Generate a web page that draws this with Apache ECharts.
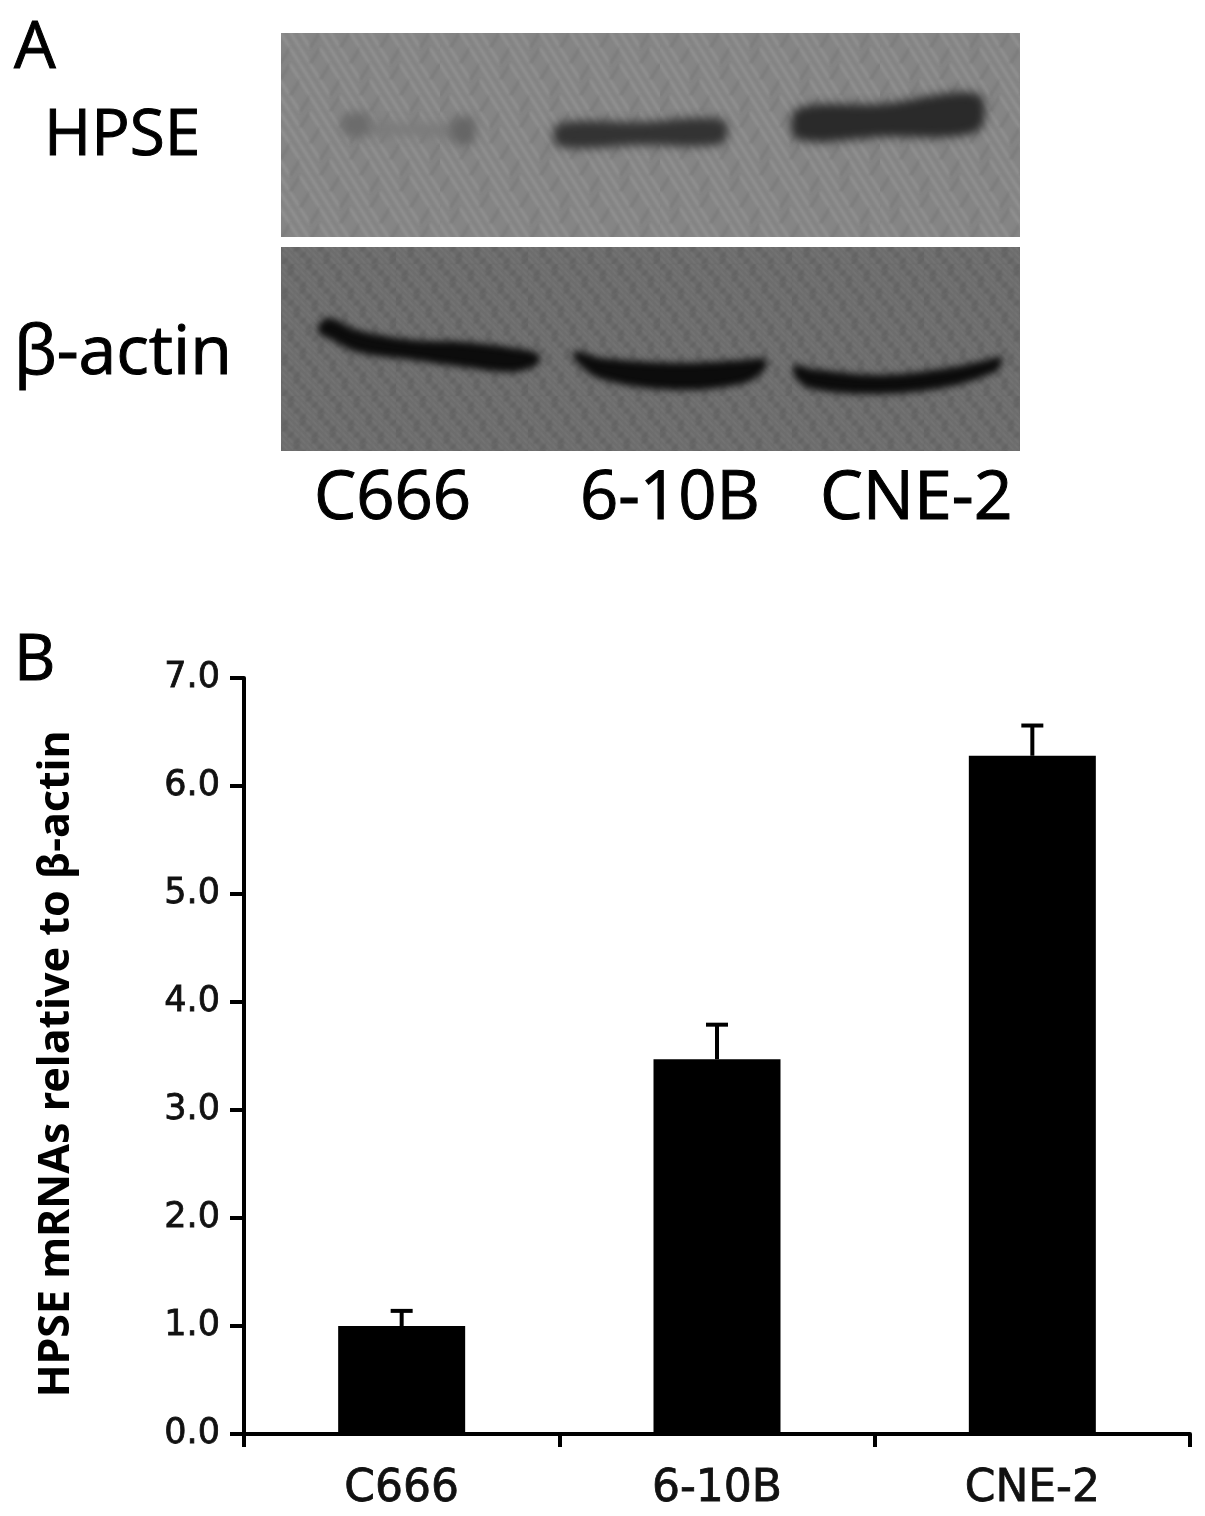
<!DOCTYPE html>
<html>
<head>
<meta charset="utf-8">
<title>HPSE</title>
<style>
html, body { margin: 0; padding: 0; background: #fff; }
#chart { width: 1205px; height: 1516px; filter: blur(0.6px); }
</style>
<script src="https://cdn.jsdelivr.net/npm/echarts@6/dist/echarts.min.js"></script>
</head>
<body>
<div id="chart"></div>
<script>
// panel B values
var categories = ['C666', '6-10B', 'CNE-2'];
var mrnaValues = [1.0, 3.47, 6.28];
var errorTops = [1.14, 3.79, 6.56];

// panel A band outlines, read from the blot: [x, top, bottom]
var hpseFaint = [[88, 90, 102], [130, 91, 103], [175, 91, 105]];
var hpseBlobLeft = [[63, 83, 101], [87, 81, 102]];
var hpseBlobRight = [[172, 88, 108], [192, 85, 110]];
var hpseBand610b = [[277, 91, 113], [360, 89, 112], [442, 87, 110]];
var hpseBandCne2 = [[516, 76, 106], [600, 71, 104], [697, 61, 98]];
var actinBandC666 = [[38, 77, 86], [49, 71, 92], [76, 83, 105], [132, 93, 113], [182, 95, 120], [232, 101, 125], [257, 107, 117]];
var actinBand610b = [[294, 104, 113], [320, 111, 132], [396, 116, 143], [464, 113, 136], [484, 112, 122]];
var actinBandCne2 = [[514, 118, 130], [531, 122, 142], [599, 128, 147], [667, 121, 140], [714, 111, 125], [720, 109, 118]];

// maze-like film grain, tiled over the blot background
function makeGrain(cellW, cellH, count, base, light, dark, width) {
    var c = document.createElement('canvas');
    c.width = cellW * count;
    c.height = cellH * count;
    var ctx = c.getContext('2d');
    ctx.fillStyle = base;
    ctx.fillRect(0, 0, c.width, c.height);
    ctx.filter = 'blur(1px)';
    ctx.lineWidth = width;
    for (var i = 0; i < count; i++) {
        for (var j = 0; j < count; j++) {
            var flip = ((i * i * 3 + j * j * 5 + i * j * 7) % 11) % 2;
            var x = i * cellW, y = j * cellH;
            ctx.strokeStyle = flip ? light : dark;
            ctx.beginPath();
            ctx.moveTo(x, flip ? y : y + cellH);
            ctx.lineTo(x + cellW, flip ? y + cellH : y);
            ctx.stroke();
        }
    }
    return c;
}

// the outline sits off the chart and only its blurred shadow lands on the blot
var SHADOW_SHIFT = 3000;
function bandSeries(rows, gridIndex, color, blur) {
    return {
        type: 'custom',
        xAxisIndex: gridIndex,
        yAxisIndex: gridIndex,
        silent: true,
        clip: false,
        data: [rows[0]],
        renderItem: function (params, api) {
            var shift = function (p) { return [p[0] - SHADOW_SHIFT, p[1]]; };
            var tops = rows.map(function (r) { return shift(api.coord([r[0], r[1]])); });
            var bottoms = rows.map(function (r) { return shift(api.coord([r[0], r[2]])); }).reverse();
            return {
                type: 'polygon',
                shape: { points: tops.concat(bottoms), smooth: 0.35 },
                style: { fill: color, shadowBlur: blur, shadowColor: color, shadowOffsetX: SHADOW_SHIFT }
            };
        }
    };
}

function blotAxis(gridIndex) {
    return {
        x: { type: 'value', gridIndex: gridIndex, min: 0, max: 739, show: false },
        y: { type: 'value', gridIndex: gridIndex, min: 0, max: 204, inverse: true, show: false }
    };
}

function label(text, x, y, size) {
    return {
        type: 'text',
        x: x,
        y: y,
        silent: true,
        style: {
            text: text, fill: '#000', stroke: '#000', lineWidth: 1,
            font: size + 'px "Open Sans"', textBaseline: 'top'
        }
    };
}

var chartFont = '"DejaVu Sans"';
var chart = echarts.init(document.getElementById('chart'), null, { renderer: 'canvas' });
var axisHpse = blotAxis(0), axisActin = blotAxis(1);

chart.setOption({
    animation: false,
    backgroundColor: '#fff',
    graphic: [
        label('A', 14, 16, 66),
        label('HPSE', 44, 105, 64),
        label('\u03b2-actin', 14, 321, 68),
        label('C666', 314, 466, 67),
        label('6-10B', 580, 466, 67),
        label('CNE-2', 820, 466, 68),
        label('B', 14, 630, 64)
    ],
    grid: [
        { left: 281, top: 33, width: 739, height: 204, show: true, borderWidth: 0,
          backgroundColor: { image: makeGrain(10, 16, 22, '#858585', '#919191', '#7c7c7c', 3), repeat: 'repeat' } },
        { left: 281, top: 247, width: 739, height: 204, show: true, borderWidth: 0,
          backgroundColor: { image: makeGrain(6, 6, 22, '#6a6a6a', '#787878', '#606060', 2), repeat: 'repeat' } },
        { left: 244, top: 678, width: 946, height: 756, containLabel: false }
    ],
    xAxis: [
        axisHpse.x,
        axisActin.x,
        {
            type: 'category',
            gridIndex: 2,
            data: categories,
            axisLine: { lineStyle: { color: '#000', width: 4 } },
            axisTick: { show: true, alignWithLabel: false, length: 13, lineStyle: { color: '#000', width: 4 } },
            axisLabel: {
                color: '#111', fontFamily: chartFont, fontSize: 44, margin: 34,
                textBorderColor: '#111', textBorderWidth: 0.8
            }
        }
    ],
    yAxis: [
        axisHpse.y,
        axisActin.y,
        {
            type: 'value',
            gridIndex: 2,
            min: 0,
            max: 7,
            interval: 1,
            splitLine: { show: false },
            axisLine: { show: true, lineStyle: { color: '#000', width: 4 } },
            axisTick: { show: true, length: 14, lineStyle: { color: '#000', width: 4 } },
            axisLabel: {
                color: '#111', fontFamily: chartFont, fontSize: 35, margin: 24,
                padding: [4, 0, 0, 0],
                textBorderColor: '#111', textBorderWidth: 0.8,
                formatter: function (v) { return v.toFixed(1); }
            },
            name: 'HPSE mRNAs relative to \u03b2-actin',
            nameLocation: 'middle',
            nameGap: 166,
            nameTextStyle: { color: '#000', fontFamily: '"Noto Sans"', fontWeight: 'bold', fontSize: 43, padding: [0, 0, 0, -16] }
        }
    ],
    series: [
        bandSeries(hpseFaint, 0, '#7c7c7c', 10),
        bandSeries(hpseBlobLeft, 0, '#6c6c6c', 10),
        bandSeries(hpseBlobRight, 0, '#666666', 10),
        bandSeries(hpseBand610b, 0, '#333333', 10),
        bandSeries(hpseBandCne2, 0, '#2a2a2a', 10),
        bandSeries(actinBandC666, 1, '#0c0c0c', 7),
        bandSeries(actinBand610b, 1, '#0c0c0c', 7),
        bandSeries(actinBandCne2, 1, '#0c0c0c', 7),
        {
            type: 'bar',
            xAxisIndex: 2,
            yAxisIndex: 2,
            data: mrnaValues,
            barWidth: 127,
            itemStyle: { color: '#000' }
        },
        {
            type: 'custom',
            xAxisIndex: 2,
            yAxisIndex: 2,
            z: 3,
            data: errorTops.map(function (top, i) { return [i, mrnaValues[i], top]; }),
            renderItem: function (params, api) {
                var base = api.coord([api.value(0), api.value(1)]);
                var top = api.coord([api.value(0), api.value(2)]);
                var capStyle = { stroke: '#000', lineWidth: 4, fill: 'none' };
                return {
                    type: 'group',
                    children: [
                        { type: 'line', shape: { x1: base[0], y1: base[1], x2: top[0], y2: top[1] }, style: capStyle },
                        { type: 'line', shape: { x1: top[0] - 11, y1: top[1], x2: top[0] + 11, y2: top[1] }, style: capStyle }
                    ]
                };
            }
        }
    ]
});
</script>
</body>
</html>
